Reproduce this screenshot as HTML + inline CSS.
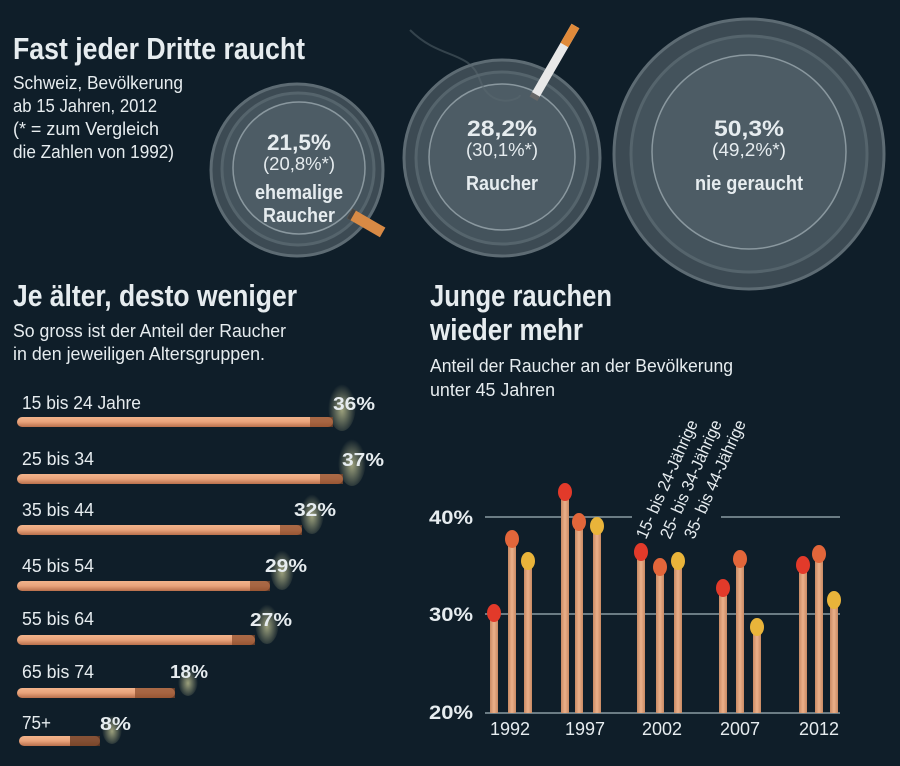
<!DOCTYPE html>
<html><head><meta charset="utf-8"><style>
html,body{margin:0;padding:0;background:#0f1e29;}
svg{display:block}
text{font-family:"Liberation Sans Narrow","Liberation Sans",sans-serif;fill:#e6ecef}
.b{font-weight:bold}
</style></head><body>
<svg width="900" height="766" viewBox="0 0 900 766" xmlns="http://www.w3.org/2000/svg">
<defs>
<linearGradient id="stick" x1="0" y1="0" x2="0" y2="1"><stop offset="0" stop-color="#f2b48c"/><stop offset="0.5" stop-color="#e8a27a"/><stop offset="1" stop-color="#b9704c"/></linearGradient>
<linearGradient id="vstick" x1="0" y1="0" x2="1" y2="0"><stop offset="0" stop-color="#c98a63"/><stop offset="0.5" stop-color="#eab08a"/><stop offset="1" stop-color="#c98a63"/></linearGradient>
<radialGradient id="glow" cx="0.5" cy="0.6" r="0.5"><stop offset="0" stop-color="#d8d8a0" stop-opacity="0.7"/><stop offset="1" stop-color="#d8d8a0" stop-opacity="0"/></radialGradient>
</defs>
<rect width="900" height="766" fill="#0f1e29"/>

<!-- Titles -->
<text x="13" y="59" class="b" font-size="31" textLength="292" lengthAdjust="spacingAndGlyphs">Fast jeder Dritte raucht</text>
<text x="13" y="89" font-size="18" textLength="170" lengthAdjust="spacingAndGlyphs">Schweiz, Bevölkerung</text>
<text x="13" y="112" font-size="18" textLength="144" lengthAdjust="spacingAndGlyphs">ab 15 Jahren, 2012</text>
<text x="13" y="135" font-size="18" textLength="146" lengthAdjust="spacingAndGlyphs">(* = zum Vergleich</text>
<text x="13" y="158" font-size="18" textLength="161" lengthAdjust="spacingAndGlyphs">die Zahlen von 1992)</text>

<!-- Ashtray 1 -->
<circle cx="297" cy="170" r="86" fill="#3c4a53" stroke="#5d6b73" stroke-width="3"/>
<circle cx="298" cy="169" r="76" fill="#44535c" stroke="#55646c" stroke-width="3"/>
<circle cx="299" cy="168" r="66" fill="#4d5c65" stroke="#8a989f" stroke-width="1.5"/>
<text x="299" y="150" class="b" font-size="22" text-anchor="middle" textLength="64" lengthAdjust="spacingAndGlyphs">21,5%</text>
<text x="299" y="170" font-size="18" text-anchor="middle" textLength="72" lengthAdjust="spacingAndGlyphs">(20,8%*)</text>
<text x="299" y="199" class="b" font-size="20" text-anchor="middle" textLength="88" lengthAdjust="spacingAndGlyphs">ehemalige</text>
<text x="299" y="222" class="b" font-size="20" text-anchor="middle" textLength="72" lengthAdjust="spacingAndGlyphs">Raucher</text>
<g transform="translate(350,213) rotate(30)"><rect x="0" y="-5" width="38" height="11" fill="#d88a45"/><rect x="0" y="-5" width="4" height="11" fill="#444"/></g>

<!-- Ashtray 2 -->
<circle cx="502" cy="158" r="98" fill="#3c4a53" stroke="#5d6b73" stroke-width="3"/>
<circle cx="502" cy="158" r="86" fill="#44535c" stroke="#55646c" stroke-width="3"/>
<circle cx="502" cy="157" r="73" fill="#4d5c65" stroke="#8a989f" stroke-width="1.5"/>
<text x="502" y="136" class="b" font-size="22" text-anchor="middle" textLength="70" lengthAdjust="spacingAndGlyphs">28,2%</text>
<text x="502" y="156" font-size="18" text-anchor="middle" textLength="72" lengthAdjust="spacingAndGlyphs">(30,1%*)</text>
<text x="502" y="190" class="b" font-size="20" text-anchor="middle" textLength="72" lengthAdjust="spacingAndGlyphs">Raucher</text>
<g transform="translate(535,95) rotate(-60)"><rect x="0" y="-4" width="80" height="9" fill="#e8e8e8"/><rect x="58" y="-4" width="22" height="9" fill="#e08a3a"/><rect x="-4" y="-4" width="5" height="9" fill="#666"/></g>
<path d="M410 30 C440 60 470 50 480 80 C490 110 520 100 520 95" stroke="#5a6870" stroke-width="2" fill="none" opacity="0.5"/>

<!-- Ashtray 3 -->
<circle cx="749" cy="154" r="135" fill="#3c4a53" stroke="#5d6b73" stroke-width="3"/>
<circle cx="749" cy="154" r="118" fill="#44535c" stroke="#55646c" stroke-width="3"/>
<circle cx="749" cy="152" r="97" fill="#4d5c65" stroke="#8a989f" stroke-width="1.5"/>
<text x="749" y="136" class="b" font-size="22" text-anchor="middle" textLength="70" lengthAdjust="spacingAndGlyphs">50,3%</text>
<text x="749" y="156" font-size="18" text-anchor="middle" textLength="74" lengthAdjust="spacingAndGlyphs">(49,2%*)</text>
<text x="749" y="190" class="b" font-size="20" text-anchor="middle" textLength="108" lengthAdjust="spacingAndGlyphs">nie geraucht</text>

<!-- Left section -->
<text x="13" y="306" class="b" font-size="31" textLength="284" lengthAdjust="spacingAndGlyphs">Je älter, desto weniger</text>
<text x="13" y="337" font-size="18" textLength="273" lengthAdjust="spacingAndGlyphs">So gross ist der Anteil der Raucher</text>
<text x="13" y="360" font-size="18" textLength="252" lengthAdjust="spacingAndGlyphs">in den jeweiligen Altersgruppen.</text>

<g font-size="18">
<text x="22" y="409" textLength="119" lengthAdjust="spacingAndGlyphs">15 bis 24 Jahre</text>
<text x="22" y="465" textLength="72" lengthAdjust="spacingAndGlyphs">25 bis 34</text>
<text x="22" y="516" textLength="72" lengthAdjust="spacingAndGlyphs">35 bis 44</text>
<text x="22" y="572" textLength="72" lengthAdjust="spacingAndGlyphs">45 bis 54</text>
<text x="22" y="625" textLength="72" lengthAdjust="spacingAndGlyphs">55 bis 64</text>
<text x="22" y="678" textLength="72" lengthAdjust="spacingAndGlyphs">65 bis 74</text>
<text x="22" y="729" textLength="29" lengthAdjust="spacingAndGlyphs">75+</text>
</g>
<g>
<ellipse cx="342" cy="405" rx="14" ry="26" fill="url(#glow)"/>
<ellipse cx="352" cy="460" rx="14" ry="26" fill="url(#glow)"/>
<ellipse cx="312" cy="512" rx="12" ry="22" fill="url(#glow)"/>
<ellipse cx="282" cy="568" rx="12" ry="22" fill="url(#glow)"/>
<ellipse cx="267" cy="622" rx="12" ry="22" fill="url(#glow)"/>
<ellipse cx="188" cy="680" rx="10" ry="16" fill="url(#glow)"/>
<ellipse cx="112" cy="728" rx="10" ry="16" fill="url(#glow)"/>
</g>
<g>
<rect x="17" y="417" width="316" height="10" rx="5" fill="url(#stick)"/><rect x="310" y="417" width="23" height="10" fill="#8a4a2a" opacity="0.7"/>
<rect x="17" y="474" width="326" height="10" rx="5" fill="url(#stick)"/><rect x="320" y="474" width="23" height="10" fill="#8a4a2a" opacity="0.7"/>
<rect x="17" y="525" width="285" height="10" rx="5" fill="url(#stick)"/><rect x="280" y="525" width="22" height="10" fill="#8a4a2a" opacity="0.7"/>
<rect x="17" y="581" width="253" height="10" rx="5" fill="url(#stick)"/><rect x="250" y="581" width="20" height="10" fill="#8a4a2a" opacity="0.7"/>
<rect x="17" y="635" width="238" height="10" rx="5" fill="url(#stick)"/><rect x="232" y="635" width="23" height="10" fill="#8a4a2a" opacity="0.7"/>
<rect x="17" y="688" width="158" height="10" rx="5" fill="url(#stick)"/><rect x="135" y="688" width="40" height="10" fill="#8a4a2a" opacity="0.7"/>
<rect x="19" y="736" width="81" height="10" rx="5" fill="url(#stick)"/><rect x="70" y="736" width="30" height="10" fill="#6a3a22" opacity="0.8"/>
</g>
<g font-size="18">
<text x="333" y="410" class="b" textLength="42" lengthAdjust="spacingAndGlyphs">36%</text>
<text x="342" y="466" class="b" textLength="42" lengthAdjust="spacingAndGlyphs">37%</text>
<text x="294" y="516" class="b" textLength="42" lengthAdjust="spacingAndGlyphs">32%</text>
<text x="265" y="572" class="b" textLength="42" lengthAdjust="spacingAndGlyphs">29%</text>
<text x="250" y="626" class="b" textLength="42" lengthAdjust="spacingAndGlyphs">27%</text>
<text x="170" y="678" class="b" textLength="38" lengthAdjust="spacingAndGlyphs">18%</text>
<text x="100" y="730" class="b" textLength="31" lengthAdjust="spacingAndGlyphs">8%</text>
</g>

<!-- Right section -->
<text x="430" y="306" class="b" font-size="31" textLength="182" lengthAdjust="spacingAndGlyphs">Junge rauchen</text>
<text x="430" y="340" class="b" font-size="31" textLength="153" lengthAdjust="spacingAndGlyphs">wieder mehr</text>
<text x="430" y="372" font-size="18" textLength="303" lengthAdjust="spacingAndGlyphs">Anteil der Raucher an der Bevölkerung</text>
<text x="430" y="396" font-size="18" textLength="125" lengthAdjust="spacingAndGlyphs">unter 45 Jahren</text>

<g stroke="#8a9ba3" stroke-width="1.5">
<line x1="485" y1="517" x2="632" y2="517"/><line x1="721" y1="517" x2="840" y2="517"/>
<line x1="485" y1="614" x2="840" y2="614"/>
<line x1="485" y1="713" x2="840" y2="713"/>
</g>
<g font-size="19">
<text x="429" y="524" class="b" textLength="44" lengthAdjust="spacingAndGlyphs">40%</text>
<text x="429" y="621" class="b" textLength="44" lengthAdjust="spacingAndGlyphs">30%</text>
<text x="429" y="719" class="b" textLength="44" lengthAdjust="spacingAndGlyphs">20%</text>
</g>
<g font-size="18" text-anchor="middle">
<text x="510" y="735">1992</text><text x="585" y="735">1997</text><text x="662" y="735">2002</text><text x="740" y="735">2007</text><text x="819" y="735">2012</text>
</g>
<g font-size="17">
<text transform="translate(646,540) rotate(-66)" textLength="128" lengthAdjust="spacingAndGlyphs">15- bis 24-Jährige</text>
<text transform="translate(670,540) rotate(-66)" textLength="128" lengthAdjust="spacingAndGlyphs">25- bis 34-Jährige</text>
<text transform="translate(694,540) rotate(-66)" textLength="128" lengthAdjust="spacingAndGlyphs">35- bis 44-Jährige</text>
</g>

<g>
<rect x="490" y="613" width="8" height="100" fill="url(#vstick)"/><ellipse cx="494" cy="613" rx="7" ry="9" fill="#e23a2a"/>
<rect x="508" y="539" width="8" height="174" fill="url(#vstick)"/><ellipse cx="512" cy="539" rx="7" ry="9" fill="#e2663a"/>
<rect x="524" y="561" width="8" height="152" fill="url(#vstick)"/><ellipse cx="528" cy="561" rx="7" ry="9" fill="#e9b43a"/>
<rect x="561" y="492" width="8" height="221" fill="url(#vstick)"/><ellipse cx="565" cy="492" rx="7" ry="9" fill="#e23a2a"/>
<rect x="575" y="522" width="8" height="191" fill="url(#vstick)"/><ellipse cx="579" cy="522" rx="7" ry="9" fill="#e2663a"/>
<rect x="593" y="526" width="8" height="187" fill="url(#vstick)"/><ellipse cx="597" cy="526" rx="7" ry="9" fill="#e9b43a"/>
<rect x="637" y="552" width="8" height="161" fill="url(#vstick)"/><ellipse cx="641" cy="552" rx="7" ry="9" fill="#e23a2a"/>
<rect x="656" y="567" width="8" height="146" fill="url(#vstick)"/><ellipse cx="660" cy="567" rx="7" ry="9" fill="#e2663a"/>
<rect x="674" y="561" width="8" height="152" fill="url(#vstick)"/><ellipse cx="678" cy="561" rx="7" ry="9" fill="#e9b43a"/>
<rect x="719" y="588" width="8" height="125" fill="url(#vstick)"/><ellipse cx="723" cy="588" rx="7" ry="9" fill="#e23a2a"/>
<rect x="736" y="559" width="8" height="154" fill="url(#vstick)"/><ellipse cx="740" cy="559" rx="7" ry="9" fill="#e2663a"/>
<rect x="753" y="627" width="8" height="86" fill="url(#vstick)"/><ellipse cx="757" cy="627" rx="7" ry="9" fill="#e9b43a"/>
<rect x="799" y="565" width="8" height="148" fill="url(#vstick)"/><ellipse cx="803" cy="565" rx="7" ry="9" fill="#e23a2a"/>
<rect x="815" y="554" width="8" height="159" fill="url(#vstick)"/><ellipse cx="819" cy="554" rx="7" ry="9" fill="#e2663a"/>
<rect x="830" y="600" width="8" height="113" fill="url(#vstick)"/><ellipse cx="834" cy="600" rx="7" ry="9" fill="#e9b43a"/>
</g>
</svg>
</body></html>
